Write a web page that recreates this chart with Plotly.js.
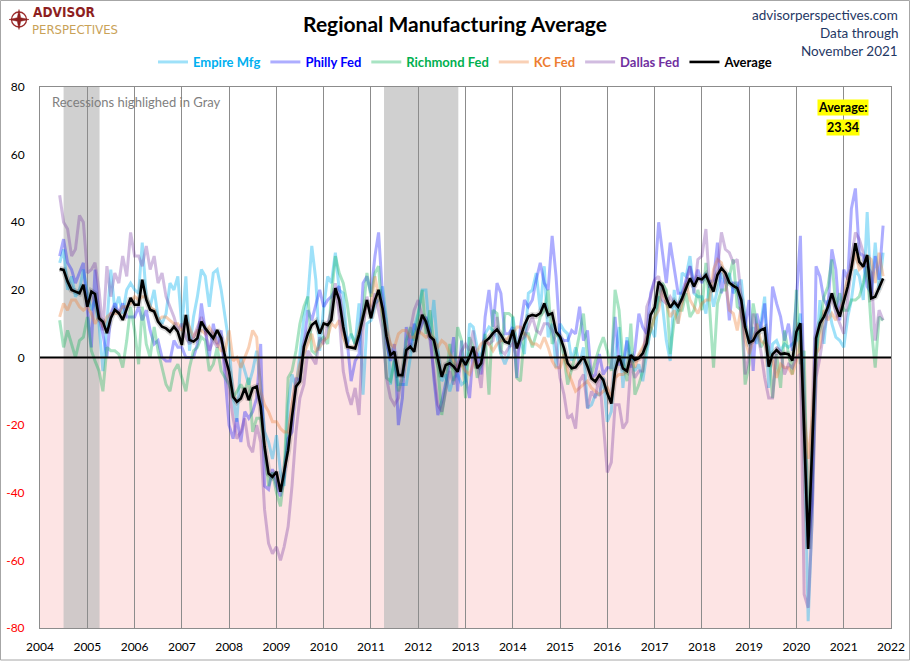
<!DOCTYPE html>
<html>
<head>
<meta charset="utf-8">
<script src="https://cdn.plot.ly/plotly-3.0.1.min.js"></script>
<style>
html,body{margin:0;padding:0;background:#fff;}
#chart{width:910px;height:661px;}
</style>
</head>
<body>
<div id="chart"></div>
<script>
// ---- Data (monthly, Jun 2004 .. Nov 2021) ----
const startYear = 2004, startMonth = 6;

const empire = [
 28, 32, 20, 24, 18, 20, 26,
 19, 14, 17, 10, -4, 10, 26, 14, 18, 13, 20, 22,
 20, 19, 34, 18, 15, 20, 12, 10, 13, 22, 20, 24,
 9, 24, 2, 12, 18, 26, 24, 15, 25, 26, 20, 12,
 4, -12, -19, 0, -4, -8, -4, 2, -8, -22, -25, -30,
 -23, -34, -38, -14, -5, -9, 1, 12, 18, 33, 23, 2,
 15, 24, 22, 31, 20, 19, 4, 7, 4, 16, -11, 10,
 11, 16, 17, 21, 11, -8, 0, -8, -8, -8, 0, 9,
 13, 20, 20, 6, 17, 2, -7, -5, -10, -6, -5, -8,
 -7, 10, 9, 3, -1, 7, 9, 8, 6, 1, -2, 1,
 12, 4, 5, 1, 19, 20, 25, 14, 27, 6, 10, -3,
 10, 8, 7, -1, 3, -2, 3, -15, -14, -11, -11, -6,
 -19, -16, 0, 9, -9, 6, 0, -4, -2, -7, 1, 9,
 6, 18, 16, 5, -1, 20, 10, 25, 24, 30, 19, 18,
 18, 13, 22, 15, 20, 25, 22, 25, 19, 21, 23, 11,
 4, 9, 4, 10, 18, -9, 4, 5, 2, 4, 3, 4,
 5, 13, -21, -78, -48, 0, 17, 4, 17, 10, 6, 5,
 3, 12, 17, 26, 24, 17, 43, 18, 34, 20, 31
];

const philly = [
 30, 35, 28, 26, 22, 25, 28,
 14, 3, 26, 12, 7, 0, 13, 16, 13, 16, 12, 12,
 12, 15, 11, 14, 8, 4, 5, 0, -1, -1, 5, 3,
 3, 0, 0, 0, 4, 16, 8, 0, 10, 4, 8, -6,
 -20, -24, -18, -25, -16, -18, -16, -12, 4, -38, -39, -33,
 -38, -41, -35, -24, -22, -6, -7, 4, 14, 11, 16, 20,
 15, 17, 18, 20, 21, 8, 5, -7, -1, 1, 22, 24,
 19, 30, 37, 18, 4, -1, 4, -20, -12, 9, 3, 10,
 7, 10, 12, 8, -6, -17, -13, -7, -2, 6, -10, 5,
 -6, -12, 2, 1, -5, 12, 20, 9, 22, 19, 7, 7,
 9, -6, 9, 17, 15, 17, 23, 28, 22, 20, 36, 24,
 6, 5, 5, 8, 7, 15, 5, 8, -6, -5, 1, -5,
 -3, -3, 12, -2, -2, 5, -3, 2, 13, 9, 7, 19,
 23, 40, 32, 22, 34, 27, 19, 19, 23, 27, 22, 26,
 22, 25, 22, 23, 34, 19, 25, 11, 22, 22, 12, 9,
 17, -4, 13, 8, 16, 0, 21, 16, 12, 5, 10, 2,
 17, 36, -12, -56, -43, 27, 24, 17, 15, 32, 26, 11,
 26, 23, 44, 50, 31, 30, 21, 19, 30, 23, 39
];

const richmond = [
 11, 3, 8, 4, 0, 5, 6,
 12, 2, -1, -4, -10, 3, 2, 2, 1, -3, 5, 15,
 8, -2, 15, 4, 0, 9, 2, -3, -8, -10, -4, -2,
 -6, -10, -3, 2, 3, 6, 5, -4, -2, 3, -4, -6,
 -8, -12, -10, -8, -10, -6, -22, -18, -18, -26, -38, -34,
 -40, -44, -35, -6, -4, 2, 10, 15, 18, 2, 1, 5,
 6, 4, 18, 30, 25, 22, 16, 7, 4, 7, 13, 25,
 18, 25, 27, 10, -6, -7, -1, -10, -6, 5, 9, 5,
 12, 20, 7, 14, 4, -3, -17, -9, 4, -7, 9, 5,
 -12, 6, 3, -6, -2, 7, -11, 14, 13, 1, 13, 13,
 12, -6, -7, 7, 7, 3, 7, 12, 14, 20, 4, 7,
 6, 0, -8, -3, 1, 7, 13, 0, -5, -1, 3, 6,
 2, -4, 20, 14, -1, -7, 10, -11, -8, -4, 4, 8,
 12, 17, 22, 20, 1, 11, 14, 14, 19, 12, 14, 20,
 14, 28, 15, -3, 16, 20, 20, 24, 29, 15, 14, -8,
 -2, 16, 10, 3, 5, 3, -12, 1, -9, 8, 1, -5,
 20, -2, 2, -53, -27, 0, 10, 18, 21, 29, 15, 19,
 14, 14, 17, 17, 18, 22, 27, 9, -3, 12, 11
];

const kc = [
 12, 16, 14, 17, 17, 15, 14,
 15, 13, 10, 12, 9, 12, 13, 13, 13, 15, 15, 16,
 18, 17, 18, 18, 15, 14, 11, 12, 12, 11, 10, 10,
 8, 11, 9, 6, 8, 8, 7, 9, 7, 4, 2, 2,
 8, -1, 0, -3, 0, 3, 8, 6, -10, -14, -16, -19,
 -19, -21, -22, -22, -14, -7, -2, 1, 4, 7, 2, 3,
 5, 6, 10, 9, 11, 6, 3, 3, 3, 8, 12, 16,
 15, 24, 18, 13, 8, 4, 3, 7, 8, 8, 6, 6,
 8, 7, 6, 7, 5, 3, 5, 4, 1, -1, -3, -2,
 -4, -5, -2, 2, 4, 5, 4, 2, 4, 5, 5, 6,
 7, 9, 9, 7, 6, 4, 4, 3, 6, 3, -1, -3,
 -3, 1, -4, -7, -10, -9, -8, -7, -9, -10, -11, -10,
 -9, -12, -6, -5, -5, -4, -1, -3, 1, 3, 6, 8,
 12, 14, 20, 16, 12, 14, 10, 16, 22, 17, 15, 13,
 16, 17, 17, 26, 29, 28, 23, 14, 13, 8, 15, 5,
 1, 5, 10, 5, 4, 0, -1, -6, -2, -3, -3, -5,
 -1, 5, -17, -30, -19, 1, 3, 14, 11, 13, 11, 14,
 17, 24, 26, 31, 26, 27, 30, 29, 22, 31, 24
];

const dallas = [
 48, 40, 38, 30, 32, 42, 40,
 25, 26, 28, 20, 8, 27, 18, 25, 22, 30, 24, 37,
 30, 30, 27, 33, 26, 30, 22, 25, 18, 15, 12, 8,
 10, 6, 4, 6, 9, 12, 8, 2, 5, 3, 6, -2,
 -10, -18, -24, -22, -18, -26, -28, -20, -25, -45, -55, -58,
 -56, -60, -56, -50, -38, -22, -12, -8, 2, 0, -2, 6,
 4, 10, 14, 22, 12, -4, -10, -14, -9, -17, 8, 18,
 12, 19, 14, 8, -6, -12, -14, -12, -4, 0, 8, 14,
 17, 12, 10, 5, -4, -14, -16, -10, -4, -8, -2, 2,
 4, 2, 8, -2, -9, 5, 4, 5, 12, 2, 1, 3,
 4, 0, 5, 6, 9, 12, 8, 7, 10, 10, 8, 4,
 -6, -11, -18, -17, -21, -7, -5, -15, -10, -12, -5, -20,
 -34, -31, -14, -14, -21, -19, -2, -6, -4, -4, 15, 18,
 23, 24, 17, 16, 18, 16, 16, 17, 22, 27, 19, 29,
 30, 38, 21, 21, 26, 37, 32, 31, 28, 29, 18, -5,
 1, 13, 8, 2, -6, -12, -12, 3, 2, -5, -2, -3,
 0, 1, -70, -74, -49, -6, 0, 8, 13, 19, 13, 10,
 7, 17, 29, 37, 35, 31, 27, 25, 5, 14, 11
];

const average = [
 26.2, 25.9, 22.5, 20.0, 19.5, 19.0, 21.5,
 15.0, 19.5, 18.8, 11.6, 10.6, 7.2, 11.6, 14.1, 13.1, 11.1, 14.1, 17.6,
 15.6, 15.6, 23.0, 17.1, 14.1, 13.6, 10.6, 9.1, 8.6, 7.6, 9.1, 7.6,
 3.7, 12.6, 5.2, 4.7, 5.7, 10.6, 8.6, 7.1, 5.7, 8.1, 5.7, 0.2,
 -4.2, -11.6, -13.1, -12.1, -9.1, -12.6, -9.1, -8.6, -14.5, -26.4, -34.3, -35.3,
 -33.8, -39.7, -33.8, -27.4, -17.5, -8.6, -7.1, 3.2, 7.1, 9.6, 10.6, 7.1,
 10.1, 9.6, 11.1, 20.5, 17.0, 9.1, 3.2, 2.9, 2.7, 6.7, 12.1, 17.0,
 11.6, 17.0, 20.0, 14.5, 6.2, 0.7, 1.7, -5.2, -5.2, 2.2, 3.2, 1.7,
 8.1, 12.6, 10.6, 6.2, 5.2, -0.2, -5.7, -2.2, -1.7, -2.7, -4.2, -0.2,
 -2.2, 0.2, 3.2, -3.2, -1.7, 4.7, 5.7, 7.2, 8.3, 6.7, 4.7, 4.2,
 8.1, 2.7, 5.7, 9.6, 12.1, 12.6, 12.3, 13.1, 16.0, 12.6, 13.1, 7.6,
 6.2, 2.7, -1.7, -3.2, -2.9, -1.5, 0.2, -2.7, -6.2, -7.1, -5.2, -6.7,
 -10.6, -13.6, -4.0, 0.5, -3.2, -4.0, 0.7, -0.7, -0.2, 1.2, 4.2, 12.6,
 14.8, 22.4, 21.2, 17.5, 14.8, 16.5, 15.0, 17.5, 20.5, 23.4, 21.0, 23.4,
 23.1, 24.4, 21.9, 19.5, 24.4, 26.4, 25.1, 22.1, 21.2, 20.5, 17.0, 9.0,
 4.4, 5.0, 7.1, 8.1, 8.6, -2.7, 1.0, 2.2, 1.0, 1.2, 1.0, -0.9,
 7.6, 10.1, -22.0, -56.6, -27.4, 5.7, 10.1, 12.1, 15.0, 19.0, 15.0, 12.1,
 16.5, 21.0, 26.4, 33.8, 28.3, 26.9, 30.3, 17.5, 18.0, 20.5, 23.34
];

const seriesNames  = ['Empire Mfg', 'Philly Fed', 'Richmond Fed', 'KC Fed', 'Dallas Fed', 'Average'];
const textColors   = ['#00B0F0', '#0000FF', '#00B050', '#ED7D31', '#7030A0', '#000000'];
const lineColors   = ['rgba(0,176,240,0.38)', 'rgba(0,0,255,0.32)', 'rgba(0,176,80,0.34)',
                      'rgba(237,125,49,0.36)', 'rgba(112,48,160,0.32)', '#000000'];
const shadedPeriods = [['2004-07-01', '2005-04-05'], ['2011-04-12', '2012-11-06']];
const yTicks = [-80, -60, -40, -20, 0, 20, 40, 60, 80];
const latestLabel = 'Average:';
const latestValue = '23.34';

// ---- build ----
const months = average.map((_, i) => {
  const m = startMonth - 1 + i;
  const y = startYear + Math.floor(m / 12);
  const mm = (m % 12) + 1;
  return y + '-' + String(mm).padStart(2, '0') + '-01';
});

const allSeries = [empire, philly, richmond, kc, dallas];
const traces = [];
allSeries.forEach((s, k) => {
  traces.push({
    x: months, y: s, type: 'scatter', mode: 'lines',
    name: '<span style="color:' + textColors[k] + '">' + seriesNames[k] + '</span>',
    line: {color: lineColors[k], width: 3},
    hoverinfo: 'skip'
  });
});
// soft shadow under average
traces.push({
  x: months, y: average, type: 'scatter', mode: 'lines', showlegend: false,
  line: {color: 'rgba(0,0,0,0.15)', width: 6}, hoverinfo: 'skip'
});
traces.push({
  x: months, y: average, type: 'scatter', mode: 'lines',
  name: '<span style="color:#000000">Average</span>',
  line: {color: '#000000', width: 2.6}
});

// pixel helpers (plot area: x 40..891, y 87..628)
const L = 40, R = 891, T = 87, B = 628;
const px = v => (v - L) / (R - L);
const py = v => (B - v) / (B - T);

const shapes = [];
shapes.push({type: 'rect', xref: 'paper', yref: 'y', x0: 0, x1: 1, y0: -80, y1: 0,
  fillcolor: '#FDE4E4', line: {width: 0}, layer: 'below'});
shadedPeriods.forEach(p => shapes.push({type: 'rect', xref: 'x', yref: 'paper',
  x0: p[0], x1: p[1], y0: 0, y1: 1, fillcolor: 'rgba(190,190,190,0.72)',
  line: {width: 0}, layer: 'below'}));
shapes.push({type: 'line', xref: 'paper', yref: 'y', x0: 0, x1: 1, y0: 0, y1: 0,
  line: {color: '#000', width: 2}});
shapes.push({type: 'rect', xref: 'paper', yref: 'paper',
  x0: px(0.5), x1: px(909.5), y0: py(660), y1: py(0.5),
  line: {color: '#A6A6A6', width: 1}, fillcolor: 'rgba(0,0,0,0)'});
// compass logo
shapes.push({type: 'circle', xref: 'paper', yref: 'paper',
  x0: px(11.5), x1: px(26.5), y0: py(27), y1: py(12),
  line: {color: '#9B2B2B', width: 1.3}, fillcolor: 'rgba(0,0,0,0)'});
(function(){
  const cx = 19, cy = 19.5, r1 = 10, r2 = 2.4;
  let d = '';
  for (let k = 0; k < 8; k++) {
    const a = k * Math.PI / 4 - Math.PI / 2;
    const r = (k % 2 === 0) ? r1 : r2;
    const X = px(cx + r * Math.cos(a)), Y = py(cy + r * Math.sin(a));
    d += (k === 0 ? 'M' : 'L') + X + ',' + Y + ' ';
  }
  d += 'Z';
  shapes.push({type: 'path', xref: 'paper', yref: 'paper', path: d,
    fillcolor: '#8E1F1F', line: {color: '#8E1F1F', width: 0.5}});
})();

const F = 'Lato, "Open Sans", sans-serif';
const LF = '"DejaVu Sans Condensed", "Liberation Sans Narrow", sans-serif';
const annotations = [
  {xref: 'paper', yref: 'paper', x: px(32), y: py(21.5), xanchor: 'left', yanchor: 'bottom',
   text: '<b>ADVISOR</b>', showarrow: false, borderpad: 0,
   font: {family: LF, size: 13.5, color: '#8E1F1F'}},
  {xref: 'paper', yref: 'paper', x: px(31), y: py(20.5), xanchor: 'left', yanchor: 'top',
   text: 'PERSPECTIVES', showarrow: false, borderpad: 0,
   font: {family: LF, size: 13, color: '#C9A257'}},
  {xref: 'paper', yref: 'paper', x: px(900), y: py(15), xanchor: 'right', yanchor: 'middle',
   text: 'advisorperspectives.com', showarrow: false, font: {family: F, size: 13.5, color: '#1F3864'}},
  {xref: 'paper', yref: 'paper', x: px(900), y: py(33), xanchor: 'right', yanchor: 'middle',
   text: 'Data through', showarrow: false, font: {family: F, size: 13.5, color: '#1F3864'}},
  {xref: 'paper', yref: 'paper', x: px(900), y: py(51), xanchor: 'right', yanchor: 'middle',
   text: 'November 2021', showarrow: false, font: {family: F, size: 13.5, color: '#1F3864'}},
  {xref: 'paper', yref: 'paper', x: px(50), y: py(102), xanchor: 'left', yanchor: 'middle',
   text: 'Recessions highlighed in Gray', showarrow: false, font: {family: F, size: 13, color: '#7F7F7F'}},
  {xref: 'paper', yref: 'paper', x: px(843), y: py(107), xanchor: 'center', yanchor: 'middle',
   text: '<b>' + latestLabel + '</b>', showarrow: false, bgcolor: '#FFFF00', borderpad: 0,
   font: {family: F, size: 12.5, color: '#000'}},
  {xref: 'paper', yref: 'paper', x: px(843), y: py(127), xanchor: 'center', yanchor: 'middle',
   text: '<b>' + latestValue + '</b>', showarrow: false, bgcolor: '#FFFF00', borderpad: 0,
   font: {family: F, size: 12.5, color: '#000'}}
];

const layout = {
  width: 910, height: 661,
  margin: {l: L, r: 910 - R, t: T, b: 661 - B, pad: 0},
  paper_bgcolor: '#FFFFFF', plot_bgcolor: '#FFFFFF',
  font: {family: F, size: 12, color: '#000'},
  title: {text: 'Regional Manufacturing Average', x: 0.5, xref: 'container', xanchor: 'center',
          y: 1 - 25 / 661, yref: 'container', yanchor: 'middle',
          font: {family: F, size: 21, color: '#000', weight: 'bold'}},
  showlegend: true,
  legend: {orientation: 'h', x: 0.5, xanchor: 'center', y: 1 + 25 / 541, yanchor: 'middle',
           font: {family: F, size: 13, weight: 'bold'}, bgcolor: 'rgba(0,0,0,0)',
           itemwidth: 30, tracegroupgap: 0},
  xaxis: {type: 'date', range: ['2004-01-01', '2022-01-01'], dtick: 'M12', tick0: '2004-01-01',
          tickformat: '%Y', showgrid: true, gridcolor: '#8C8C8C', gridwidth: 1,
          showline: true, mirror: true, linecolor: '#8C8C8C', linewidth: 1,
          ticks: '', ticklabelstandoff: 8, zeroline: false,
          tickfont: {family: F, size: 12, color: '#000'}, fixedrange: true},
  yaxis: {range: [-80, 80], tickvals: yTicks,
          ticktext: yTicks.map(v => v < 0 ? '<span style="color:#FF0000">' + v + '</span>' : String(v)),
          showgrid: false, zeroline: false, showline: true, mirror: true,
          linecolor: '#8C8C8C', linewidth: 1, ticks: '', ticklabelstandoff: 12,
          tickfont: {family: F, size: 12, color: '#000'}, fixedrange: true},
  shapes: shapes,
  annotations: annotations
};

Plotly.newPlot('chart', traces, layout, {displayModeBar: false, staticPlot: true});
</script>
</body>
</html>
